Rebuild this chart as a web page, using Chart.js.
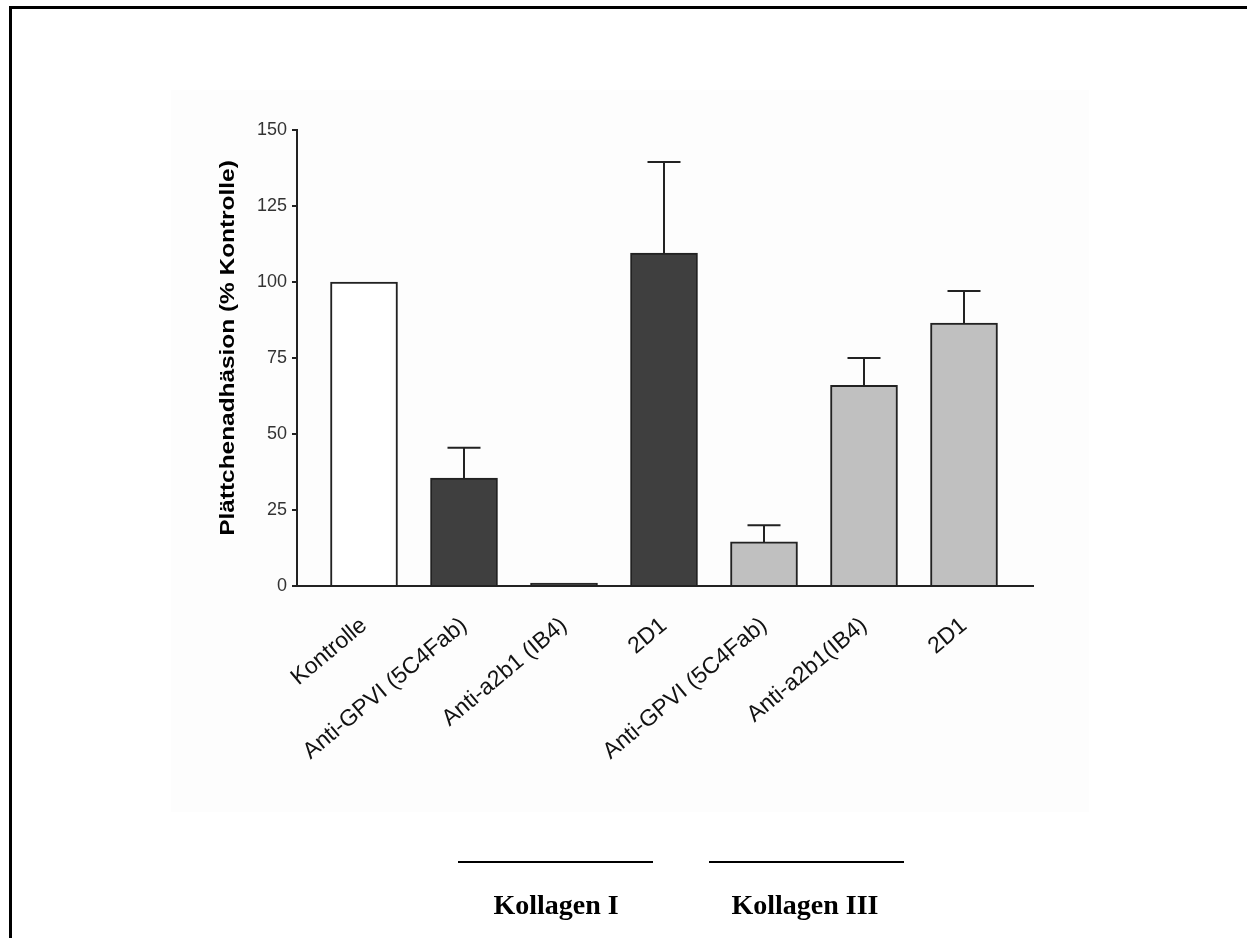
<!DOCTYPE html>
<html>
<head>
<meta charset="utf-8">
<script src="https://cdn.jsdelivr.net/npm/chart.js@4.4.1/dist/chart.umd.min.js"></script>
<style>
  html, body { margin: 0; padding: 0; background: #ffffff; }
  #wrap { position: relative; width: 1247px; height: 938px; overflow: hidden; }
  #panel { position: absolute; left: 171px; top: 90px; width: 918px; height: 722px; background: #fdfdfd; }
  #frameTop { position: absolute; left: 9px; top: 6px; width: 1238px; height: 3px; background: #000; }
  #frameLeft { position: absolute; left: 9px; top: 6px; width: 3px; height: 932px; background: #000; }
  canvas { position: absolute; left: 0; top: 0; }
  .grpLine { position: absolute; height: 2px; background: #000; top: 861px; }
  .grpText { position: absolute; top: 889px; font-family: "Liberation Serif", "Times New Roman", serif; font-weight: bold; font-size: 28px; color: #000; white-space: nowrap; transform: translateX(-50%); }
</style>
</head>
<body>
<div id="wrap">
  <div id="panel"></div>
  <div id="frameTop"></div>
  <div id="frameLeft"></div>
  <canvas id="c" width="1247" height="938"></canvas>
  <div class="grpLine" style="left:458px;width:195px;"></div>
  <div class="grpLine" style="left:709px;width:195px;"></div>
  <div class="grpText" style="left:556px;">Kollagen I</div>
  <div class="grpText" style="left:805px;">Kollagen III</div>
</div>
<script>
// ---- data ----
const categories = ["Kontrolle", "Anti-GPVI (5C4Fab)", "Anti-a2b1 (IB4)", "2D1", "Anti-GPVI (5C4Fab)", "Anti-a2b1(IB4)", "2D1"];
const means = [100, 35.5, 1, 109.5, 14.5, 66, 86.5];
const errorTops = [null, 45.5, null, 139.5, 20, 75, 97];
const yTicks = [0, 25, 50, 75, 100, 125, 150];
const barColors = ["#ffffff", "#3f3f3f", "#3f3f3f", "#3f3f3f", "#c0c0c0", "#c0c0c0", "#c0c0c0"];
const yTitle = "Plättchenadhäsion (% Kontrolle)";

const points = means.map((v, i) => ({ x: i, y: v }));

const errorBarPlugin = {
  id: 'errorBars',
  afterDatasetsDraw(chart) {
    const ctx = chart.ctx;
    const xs = chart.scales.x, ys = chart.scales.y;
    ctx.save();
    ctx.strokeStyle = '#222';
    ctx.lineWidth = 2;
    errorTops.forEach((top, i) => {
      if (top === null) return;
      const px = xs.getPixelForValue(i);
      const y0 = ys.getPixelForValue(means[i]);
      const y1 = ys.getPixelForValue(top);
      ctx.beginPath();
      ctx.moveTo(px, y0);
      ctx.lineTo(px, y1);
      ctx.moveTo(px - 16.5, y1);
      ctx.lineTo(px + 16.5, y1);
      ctx.stroke();
    });
    ctx.restore();
  }
};

const yTitlePlugin = {
  id: 'yTitle',
  afterDraw(chart) {
    const ctx = chart.ctx;
    const ca = chart.chartArea;
    ctx.save();
    ctx.translate(228, (ca.top + ca.bottom) / 2 - 10);
    ctx.rotate(-Math.PI / 2);
    ctx.scale(1.22, 1);
    ctx.font = 'bold 20px "Liberation Sans", Arial, sans-serif';
    ctx.fillStyle = '#000';
    ctx.textAlign = 'center';
    ctx.textBaseline = 'middle';
    ctx.fillText(yTitle, 0, 0);
    ctx.restore();
  }
};

new Chart(document.getElementById('c'), {
  type: 'bar',
  data: {
    datasets: [{
      data: points,
      backgroundColor: barColors,
      borderColor: '#222',
      borderWidth: 2,
      barThickness: 67
    }]
  },
  options: {
    responsive: false,
    animation: false,
    events: [],
    layout: { padding: { top: 130, right: 214, left: 0, bottom: 0 } },
    plugins: { legend: { display: false }, tooltip: { enabled: false } },
    scales: {
      x: {
        type: 'linear',
        offset: false,
        min: -0.67,
        max: 6.69,
        grid: { display: false, offset: false },
        border: { display: true, color: '#222', width: 2 },
        afterBuildTicks(scale) { scale.ticks = categories.map((_, i) => ({ value: i })); },
        afterFit(scale) { scale.height = 352; },
        ticks: {
          autoSkip: false,
          maxRotation: 40,
          minRotation: 40,
          padding: 18,
          color: '#111',
          font: { family: 'Liberation Sans, Arial, sans-serif', size: 23 },
          callback: (v) => categories[v] ?? ''
        }
      },
      y: {
        min: 0,
        max: 150,
        afterBuildTicks(scale) { scale.ticks = yTicks.map(v => ({ value: v })); },
        afterFit(scale) { scale.width = 297; },
        grid: { display: true, drawOnChartArea: false, drawTicks: true, tickLength: 5, color: '#222', lineWidth: 2 },
        border: { display: true, color: '#222', width: 2 },
        ticks: {
          padding: 5,
          color: '#333',
          font: { family: 'Liberation Sans, Arial, sans-serif', size: 18 }
        },
        title: { display: false }
      }
    }
  },
  plugins: [errorBarPlugin, yTitlePlugin]
});
</script>
</body>
</html>
